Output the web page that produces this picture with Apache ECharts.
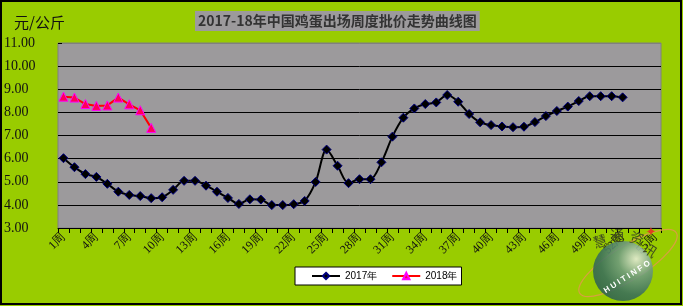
<!DOCTYPE html>
<html>
<head>
<meta charset="utf-8">
<script src="https://cdn.jsdelivr.net/npm/echarts@6/dist/echarts.min.js"></script>
<style>
html,body{margin:0;padding:0;background:#99CC00;}
#chart{width:683px;height:306px;}
</style>
</head>
<body>
<div id="chart"></div>
<script>
// ---- data ----
var weeks = [];
for (var i = 1; i <= 55; i++) { weeks.push(i + '周'); }
var data2017 = [6.02, 5.63, 5.33, 5.21, 4.91, 4.57, 4.43, 4.38, 4.29, 4.33,
                4.65, 5.04, 5.04, 4.83, 4.57, 4.30, 4.04, 4.24, 4.23, 3.99,
                3.99, 4.03, 4.17, 4.99, 6.39, 5.69, 4.94, 5.11, 5.11, 5.84,
                6.95, 7.77, 8.17, 8.36, 8.43, 8.75, 8.46, 7.93, 7.57, 7.45,
                7.39, 7.36, 7.38, 7.58, 7.84, 8.06, 8.25, 8.49, 8.70, 8.70,
                8.70, 8.65];
var data2018 = [8.68, 8.64, 8.36, 8.28, 8.30, 8.64, 8.35, 8.09, 7.33];
var seriesNames = ['2017年', '2018年'];
var titleText = '2017-18年中国鸡蛋出场周度批价走势曲线图';
var unitText = '元/公斤';
var logoChars = ['慧', '通', '资', '讯'];
var logoLatin = 'H U I T I N F O';

var chart = echarts.init(document.getElementById('chart'), null, {renderer: 'canvas'});
var gridColors = ['#000','#000','#000','#000','#000','#000','#000','#000','#808080'];
var logoFont = {fontSize: 14, fill: '#3E4A20', align: 'center', verticalAlign: 'middle', fontFamily: 'Noto Sans CJK SC'};
function charStyle(t) { return Object.assign({text: t}, logoFont); }
chart.setOption({
  backgroundColor: '#99CC00',
  animation: false,
  title: {
    text: titleText,
    left: 195, top: 11,
    padding: [3, 3, 3, 3],
    backgroundColor: '#9C9A9C',
    textStyle: {fontSize: 14, fontWeight: 'bold', color: '#333333', fontFamily: 'Noto Sans CJK SC'}
  },
  legend: {
    left: 295, top: 267,
    padding: [4, 4, 4, 16],
    itemGap: 14,
    itemWidth: 28, itemHeight: 8,
    backgroundColor: '#ffffff',
    borderColor: '#000', borderWidth: 1,
    textStyle: {fontSize: 10, color: '#000', fontFamily: 'Liberation Sans'},
    data: seriesNames
  },
  grid: {
    left: 58, right: 22, top: 43, bottom: 78,
    show: true, backgroundColor: '#9C9A9C', borderColor: '#808080', borderWidth: 1
  },
  xAxis: {
    type: 'category',
    data: weeks,
    boundaryGap: true,
    axisLine: {lineStyle: {color: '#000', width: 1}},
    axisTick: {show: true, interval: 0, length: 5, lineStyle: {color: '#000'}},
    axisLabel: {interval: 2, rotate: 45, margin: 7, fontSize: 12, color: '#111',
                fontFamily: 'Liberation Serif'},
    splitLine: {show: false}
  },
  yAxis: {
    type: 'value',
    min: 3, max: 11, interval: 1,
    axisLine: {show: false},
    axisTick: {show: true, inside: true, length: 4, lineStyle: {color: '#000'}},
    axisLabel: {
      align: 'left', margin: 54, fontSize: 14, color: '#111', fontFamily: 'Liberation Serif',
      formatter: function (v) { return v.toFixed(2); }
    },
    splitLine: {show: true, lineStyle: {color: gridColors, width: 1}}
  },
  series: [
    {
      name: seriesNames[0], type: 'line', data: data2017,
      smooth: 0.3, showAllSymbol: true,
      symbol: 'diamond', symbolSize: 9,
      lineStyle: {color: '#000', width: 2},
      itemStyle: {color: '#000', borderColor: '#000080', borderWidth: 1},
      z: 3
    },
    {
      name: seriesNames[1], type: 'line', data: data2018,
      smooth: false, showAllSymbol: true,
      symbol: 'triangle', symbolSize: 9,
      lineStyle: {color: '#FF0000', width: 2},
      itemStyle: {color: '#FF0055', borderColor: '#FF00FF', borderWidth: 1},
      z: 4
    }
  ],
  graphic: [
    {type: 'rect', shape: {x: 1, y: 1, width: 680, height: 303}, style: {fill: 'none', stroke: '#000', lineWidth: 2}, z: 0, silent: true},
    {type: 'text', left: 14, top: 15, style: {text: unitText, fontSize: 15, fill: '#111', fontFamily: 'Noto Sans CJK SC'}},
    {type: 'ellipse', z: 100, shape: {cx: 0, cy: 0, rx: 57, ry: 17}, x: 628, y: 263, rotation: 0.56,
     style: {fill: 'none', stroke: '#D8A040', lineWidth: 1.2}},
    {type: 'circle', z: 101, shape: {cx: 623, cy: 271, r: 30}, style: {
      opacity: 0.88,
      fill: {type: 'radial', x: 0.72, y: 0.3, r: 0.85, colorStops: [
        {offset: 0, color: '#E8EEDC'}, {offset: 0.35, color: '#6E9A80'}, {offset: 0.7, color: '#3A6E5C'}, {offset: 1, color: '#2C5E4E'}]}
    }},
    {type: 'text', z: 102, x: 600, y: 241, rotation: 0.3, style: charStyle(logoChars[0])},
    {type: 'text', z: 102, x: 617, y: 235, style: charStyle(logoChars[1])},
    {type: 'text', z: 102, x: 637, y: 238, rotation: -0.3, style: charStyle(logoChars[2])},
    {type: 'text', z: 102, x: 650, y: 250, rotation: -0.6, style: charStyle(logoChars[3])},
    {type: 'text', z: 102, x: 651, y: 233, style: {text: '✦', fontSize: 13, fill: '#E04020', align: 'center', verticalAlign: 'middle', fontFamily: 'DejaVu Sans'}},
    {type: 'text', z: 102, x: 627, y: 277, rotation: 0.57,
     style: {text: logoLatin, fontSize: 8, fontWeight: 'bold', fill: '#ffffff', align: 'center', verticalAlign: 'middle', fontFamily: 'Liberation Sans'}}
  ]
});
</script>
</body>
</html>
